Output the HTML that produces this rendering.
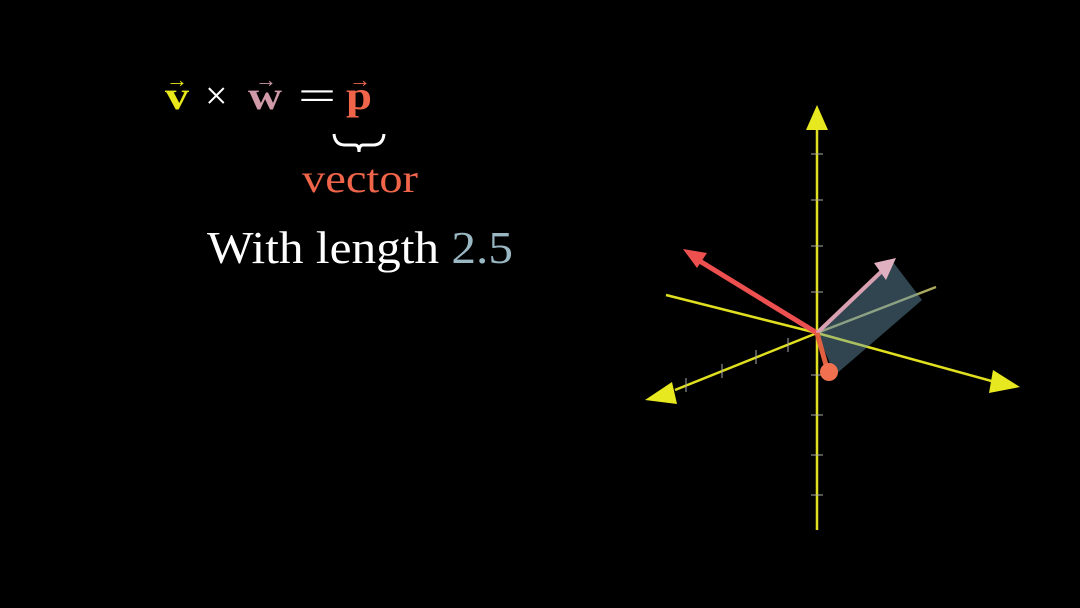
<!DOCTYPE html>
<html><head><meta charset="utf-8"><style>
html,body{margin:0;padding:0;background:#000;width:1080px;height:608px;overflow:hidden}
svg{display:block}
text{font-family:"Liberation Serif",serif}
</style></head><body>
<svg width="1080" height="608" viewBox="0 0 1080 608">
<g>
 <text x="165" y="109" font-size="40" font-weight="bold" fill="#e8e81a" textLength="24" lengthAdjust="spacingAndGlyphs">v</text>
 <text x="166" y="87" font-size="22" fill="#e8e81a">→</text>
 <text x="205" y="109" font-size="40" fill="#fff">×</text>
 <text x="248" y="109" font-size="40" font-weight="bold" fill="#d09aa8" textLength="34" lengthAdjust="spacingAndGlyphs">w</text>
 <text x="255" y="87" font-size="22" fill="#d09aa8">→</text>
 <text x="298" y="110" font-size="42" fill="#fff" textLength="38" lengthAdjust="spacingAndGlyphs">=</text>
 <text x="346" y="109" font-size="40" font-weight="bold" fill="#f0654a" textLength="26" lengthAdjust="spacingAndGlyphs">p</text>
 <text x="349" y="87" font-size="22" fill="#f0654a">→</text>
</g>
<path d="M334 134 Q335 145 345 145 L355 145 Q359 145 359 152 Q359 145 363 145 L373 145 Q383 145 384 134" fill="none" stroke="#fff" stroke-width="3"/>
<text x="302" y="192" font-size="40" fill="#f0654a" textLength="116" lengthAdjust="spacingAndGlyphs">vector</text>
<text x="207" y="263" font-size="46" fill="#fff" textLength="306" lengthAdjust="spacingAndGlyphs">With length <tspan fill="#9ab8c4">2.5</tspan></text>

<g stroke="#e0e020" stroke-width="2.5" fill="none">
 <line x1="817" y1="125" x2="817" y2="530"/>
 <line x1="666" y1="295" x2="817" y2="333"/>
 <line x1="817" y1="333" x2="936" y2="287" stroke="#a8a860"/>
 <line x1="675" y1="390" x2="817" y2="333"/>
 <line x1="817" y1="333" x2="995" y2="382"/>
 <g stroke-width="1" stroke="#aaa">
  <line x1="811" y1="154" x2="823" y2="154"/><line x1="811" y1="200" x2="823" y2="200"/>
  <line x1="811" y1="246" x2="823" y2="246"/><line x1="811" y1="292" x2="823" y2="292"/>
  <line x1="811" y1="375" x2="823" y2="375"/><line x1="811" y1="415" x2="823" y2="415"/>
  <line x1="811" y1="455" x2="823" y2="455"/><line x1="811" y1="495" x2="823" y2="495"/>
  <line x1="788" y1="338" x2="788" y2="352"/><line x1="756" y1="350" x2="756" y2="364"/>
  <line x1="722" y1="364" x2="722" y2="378"/><line x1="686" y1="378" x2="686" y2="392"/>
 </g>
</g>
<polygon points="817,105 806,130 828,130" fill="#e8e820"/>
<polygon points="645,400 672,382 677,404" fill="#e8e820"/>
<polygon points="1020,387 993,370 989,393" fill="#e8e820"/>

<polygon points="817,333 893,262 922,300 835,375" fill="#6a9ab0" fill-opacity="0.45"/>
<line x1="817" y1="333" x2="698" y2="260" stroke="#ee5050" stroke-width="5"/>
<polygon points="683,249 707,253 697,268" fill="#ee5050"/>
<line x1="817" y1="333" x2="882" y2="271" stroke="#d8a0b0" stroke-width="4"/>
<polygon points="896,258 874,263 886,280" fill="#e0b0c0"/>
<line x1="817" y1="333" x2="826" y2="365" stroke="#e06040" stroke-width="5"/>
<circle cx="829" cy="372" r="9" fill="#f07050"/>
</svg>
</body></html>
